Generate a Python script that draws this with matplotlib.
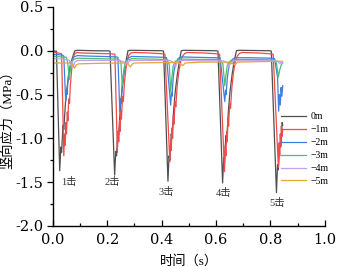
import matplotlib
matplotlib.use('Agg')
import matplotlib.pyplot as plt
from matplotlib.ticker import MultipleLocator

# 数据
t_0m = [0.000, 0.013, 0.025, 0.029, 0.032, 0.037, 0.040, 0.046, 0.052, 0.060, 0.068, 0.076, 0.081, 0.090, 0.150, 0.205,
        0.210, 0.227, 0.231, 0.234, 0.239, 0.242, 0.248, 0.254, 0.262, 0.270, 0.276, 0.285, 0.400,
        0.407, 0.423, 0.427, 0.430, 0.435, 0.438, 0.444, 0.450, 0.458, 0.466, 0.472, 0.480, 0.600,
        0.607, 0.624, 0.628, 0.631, 0.636, 0.639, 0.645, 0.651, 0.659, 0.667, 0.675, 0.683, 0.798,
        0.803, 0.822, 0.826, 0.829, 0.834, 0.838, 0.843, 0.845]
y_0m = [-0.005, -0.005, -1.37, -1.10, -1.16, -0.85, -0.90, -0.60, -0.42, -0.25, -0.12, -0.04, 0.00, 0.005, 0.000, -0.002,
        -0.005, -1.42, -1.15, -1.20, -0.92, -0.96, -0.65, -0.45, -0.25, -0.10, 0.00, 0.005, 0.000,
        -0.005, -1.49, -1.20, -1.25, -0.95, -1.00, -0.68, -0.46, -0.26, -0.10, 0.00, 0.005, 0.000,
        -0.005, -1.51, -1.22, -1.27, -0.97, -1.02, -0.70, -0.47, -0.27, -0.11, 0.00, 0.005, 0.000,
        -0.005, -1.62, -1.30, -1.36, -1.05, -1.10, -0.82, -0.85]

t_1m = [0.000, 0.012, 0.025, 0.032, 0.040, 0.043, 0.045, 0.048, 0.050, 0.053, 0.055, 0.058, 0.061, 0.064, 0.068, 0.072,
        0.076, 0.082, 0.090, 0.100, 0.150, 0.215,
        0.228, 0.237, 0.240, 0.242, 0.245, 0.247, 0.250, 0.252, 0.256, 0.259, 0.263, 0.268, 0.273, 0.279, 0.287,
        0.300, 0.350, 0.405,
        0.412, 0.430, 0.433, 0.435, 0.438, 0.440, 0.443, 0.445, 0.449, 0.452, 0.457, 0.463, 0.470, 0.477, 0.485,
        0.495, 0.550, 0.605,
        0.613, 0.631, 0.634, 0.636, 0.639, 0.641, 0.644, 0.646, 0.650, 0.653, 0.658, 0.664, 0.671, 0.678, 0.686,
        0.695, 0.750, 0.800,
        0.810, 0.829, 0.832, 0.834, 0.836, 0.838, 0.840, 0.842, 0.845]
y_1m = [-0.020, -0.022, -0.030, -0.035, -1.20, -0.95, -1.08, -0.82, -0.95, -0.70, -0.80, -0.55, -0.60, -0.40, -0.25, -0.12,
        -0.06, -0.03, -0.02, -0.025, -0.030, -0.035,
        -0.040, -1.16, -0.92, -1.04, -0.80, -0.92, -0.68, -0.78, -0.52, -0.58, -0.36, -0.22, -0.11, -0.05, -0.025,
        -0.02, -0.025, -0.035,
        -0.040, -1.27, -1.02, -1.14, -0.88, -1.00, -0.74, -0.84, -0.58, -0.64, -0.40, -0.24, -0.12, -0.06, -0.03,
        -0.02, -0.025, -0.035,
        -0.040, -1.38, -1.08, -1.20, -0.92, -1.04, -0.76, -0.86, -0.60, -0.66, -0.42, -0.25, -0.12, -0.06, -0.03,
        -0.02, -0.025, -0.035,
        -0.040, -1.33, -1.05, -1.20, -0.95, -1.08, -0.86, -0.98, -0.90]

t_2m = [0.000, 0.020, 0.035, 0.040, 0.047, 0.050, 0.052, 0.056, 0.060, 0.065, 0.070, 0.078, 0.090, 0.120, 0.180, 0.230,
        0.239, 0.246, 0.249, 0.251, 0.255, 0.259, 0.264, 0.270, 0.278, 0.290, 0.350, 0.410,
        0.418, 0.433, 0.436, 0.438, 0.442, 0.446, 0.452, 0.460, 0.472, 0.520, 0.600,
        0.615, 0.632, 0.635, 0.637, 0.641, 0.645, 0.651, 0.659, 0.670, 0.720, 0.800,
        0.815, 0.826, 0.830, 0.833, 0.836, 0.839, 0.842, 0.845]
y_2m = [-0.045, -0.045, -0.050, -0.060, -0.58, -0.45, -0.50, -0.30, -0.22, -0.15, -0.10, -0.07, -0.055, -0.060, -0.065, -0.070,
        -0.075, -0.70, -0.55, -0.60, -0.38, -0.28, -0.18, -0.12, -0.08, -0.065, -0.070, -0.075,
        -0.080, -0.62, -0.48, -0.52, -0.32, -0.22, -0.14, -0.09, -0.07, -0.075, -0.080,
        -0.085, -0.58, -0.45, -0.50, -0.32, -0.22, -0.14, -0.10, -0.08, -0.080, -0.085,
        -0.090, -0.30, -0.69, -0.50, -0.62, -0.42, -0.52, -0.40]

t_3m = [0.000, 0.030, 0.050, 0.055, 0.060, 0.064, 0.068, 0.075, 0.090, 0.150, 0.240,
        0.250, 0.255, 0.259, 0.264, 0.272, 0.290, 0.350, 0.420,
        0.428, 0.433, 0.437, 0.442, 0.450, 0.470, 0.540, 0.615,
        0.625, 0.632, 0.636, 0.641, 0.650, 0.670, 0.740, 0.815,
        0.822, 0.829, 0.834, 0.840, 0.845]
y_3m = [-0.065, -0.070, -0.075, -0.15, -0.33, -0.22, -0.14, -0.10, -0.085, -0.090, -0.095,
        -0.13, -0.40, -0.28, -0.16, -0.11, -0.09, -0.095, -0.10,
        -0.16, -0.47, -0.32, -0.18, -0.12, -0.095, -0.10, -0.10,
        -0.15, -0.40, -0.28, -0.17, -0.12, -0.10, -0.10, -0.105,
        -0.14, -0.30, -0.22, -0.16, -0.14]

t_4m = [0.000, 0.040, 0.060, 0.066, 0.071, 0.075, 0.080, 0.090, 0.160, 0.245,
        0.262, 0.267, 0.272, 0.276, 0.282, 0.350, 0.430,
        0.446, 0.451, 0.456, 0.460, 0.466, 0.540, 0.628,
        0.642, 0.647, 0.652, 0.657, 0.663, 0.740, 0.825,
        0.835, 0.840, 0.845]
y_4m = [-0.090, -0.095, -0.110, -0.17, -0.12, -0.19, -0.13, -0.11, -0.110, -0.110,
        -0.13, -0.17, -0.12, -0.15, -0.11, -0.110, -0.110,
        -0.14, -0.19, -0.12, -0.14, -0.11, -0.115, -0.115,
        -0.14, -0.20, -0.13, -0.15, -0.115, -0.115, -0.115,
        -0.15, -0.13, -0.14]

t_5m = [0.000, 0.050, 0.070, 0.080, 0.086, 0.095, 0.150, 0.260,
        0.275, 0.285, 0.292, 0.300, 0.400, 0.460,
        0.470, 0.478, 0.486, 0.550, 0.650,
        0.662, 0.670, 0.678, 0.750, 0.845]
y_5m = [-0.140, -0.140, -0.145, -0.20, -0.16, -0.15, -0.145, -0.140,
        -0.15, -0.185, -0.15, -0.14, -0.135, -0.135,
        -0.15, -0.17, -0.14, -0.13, -0.13,
        -0.15, -0.16, -0.13, -0.125, -0.12]

labels = ['0m', '−1m', '−2m', '−3m', '−4m', '−5m']
colors = ['#4f4f4f', '#f24a4a', '#3d7fe3', '#4cbf70', '#c59ef0', '#e3a73a']

hit_labels = ['1击', '2击', '3击', '4击', '5击']
hit_x = [0.057, 0.217, 0.418, 0.627, 0.823]
hit_y = [-1.50, -1.50, -1.61, -1.63, -1.74]

plt.rcParams['font.family'] = ['Liberation Serif', 'Noto Sans CJK SC']
plt.rcParams['axes.unicode_minus'] = True

fig = plt.figure(figsize=(3.37, 2.67), dpi=100)
ax = fig.add_axes([0.157, 0.154, 0.807, 0.82])

series = [(t_0m, y_0m), (t_1m, y_1m), (t_2m, y_2m), (t_3m, y_3m), (t_4m, y_4m), (t_5m, y_5m)]
for (t, y), lab, c in zip(series, labels, colors):
    ax.plot(t, y, color=c, lw=0.9, label=lab)

for s, x, y in zip(hit_labels, hit_x, hit_y):
    ax.text(x, y, s, fontsize=7.5, ha='center', va='center', color='#333333')

ax.set_xlim(0, 1.0)
ax.set_ylim(-2.0, 0.5)
ax.xaxis.set_major_locator(MultipleLocator(0.2))
ax.xaxis.set_minor_locator(MultipleLocator(0.1))
ax.yaxis.set_major_locator(MultipleLocator(0.5))
ax.yaxis.set_minor_locator(MultipleLocator(0.25))
ax.xaxis.set_major_formatter(plt.FormatStrFormatter('%.1f'))
ax.yaxis.set_major_formatter(plt.FormatStrFormatter('%.1f'))
ax.tick_params(axis='x', which='both', direction='in', labelsize=10.5, pad=5)
ax.tick_params(axis='y', which='both', direction='out', labelsize=10.5, pad=3)
ax.tick_params(which='major', length=4, width=0.9)
ax.tick_params(which='minor', length=2.5, width=0.9)
for lbl in ax.get_xticklabels() + ax.get_yticklabels():
    lbl.set_fontfamily('DejaVu Serif')
for side in ['top', 'right']:
    ax.spines[side].set_visible(False)
for side in ['left', 'bottom']:
    ax.spines[side].set_linewidth(1.0)

ax.set_xlabel('时间（s）', fontsize=9.5, labelpad=6)
ax.set_ylabel('竖向应力（MPa）', fontsize=9.5, labelpad=1)

ax.legend(loc='upper left', bbox_to_anchor=(0.826, 0.59), bbox_transform=fig.transFigure,
          frameon=False, fontsize=7, handlelength=2.5, labelspacing=0.4, handletextpad=0.5,
          borderaxespad=0, borderpad=0.3)

fig.savefig('out.png', dpi=100)
